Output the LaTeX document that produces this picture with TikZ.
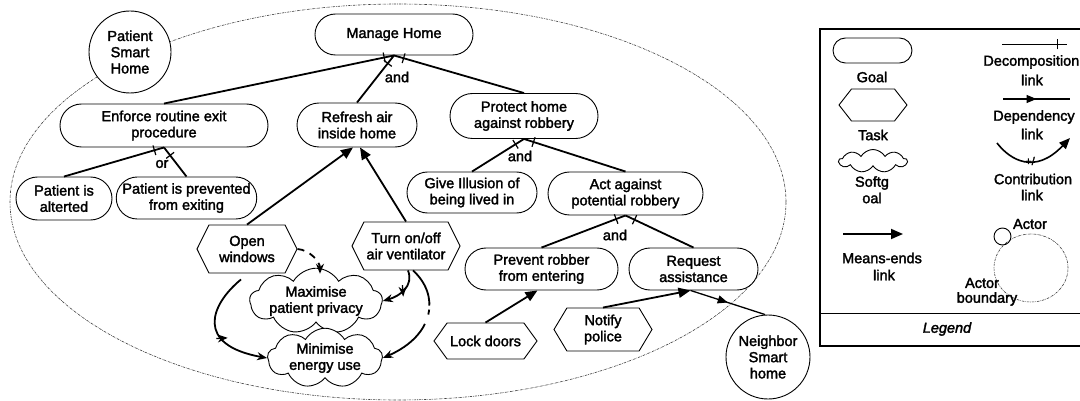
\documentclass[tikz,border=0pt]{standalone}
\usepackage{fontspec}
\setmainfont{Liberation Sans}[FakeBold=2]
\usetikzlibrary{shapes.misc,shapes.symbols,shapes.geometric,arrows.meta,decorations.markings,calc}
\begin{document}
\begin{tikzpicture}[x=1pt,y=-1pt,
  every node/.style={font=\fontsize{14.5}{16.2}\selectfont, align=center, inner sep=0pt},
  goal/.style={rounded rectangle, draw, line width=0.9pt, fill=white},
  task/.style={signal, signal to=west and east, signal pointer angle=#1, draw, line width=0.9pt, fill=white},
  task/.default=125,
  soft/.style={cloud, cloud puffs=9, cloud puff arc=120, cloud ignores aspect, draw, line width=0.9pt, fill=white},
  actor/.style={circle, draw, line width=0.9pt, fill=white},
  bnd/.style={line width=0.6pt, black!75, dash pattern=on 2.5pt off 1pt on 0.6pt off 1pt},
  lnk/.style={line width=1.8pt},
  tickmark/.style={postaction={decorate, decoration={markings, mark=at position #1 with {\draw[line width=1.2pt, solid] (0,-5pt) -- (0,5pt);}}}},
  xmark/.style={postaction={decorate, decoration={markings, mark=at position #1 with {\draw[line width=1.3pt, solid] (-3.5pt,-4.5pt) -- (3.5pt,4.5pt);}}}},
  decomp/.style={lnk, tickmark=10pt},
  meansend/.style={lnk, -{Triangle[length=12pt,width=10pt]}},
  contrib/.style={lnk, -{Stealth[length=10pt,width=8pt]}},
  dep/.style={line width=1.3pt, postaction={decorate, decoration={markings, mark=at position 0.5 with {\arrow{Triangle[length=10pt,width=8pt]}}}}},
  lbl/.style={}
]
\useasboundingbox (0,0) rectangle (1080,401);

% actor boundary
\draw[bnd] (398,202) ellipse [x radius=388pt, y radius=198pt];

% actors
\node[actor, minimum size=82pt] (psh) at (130,52) {Patient\\Smart\\Home};
\node[actor, minimum size=84pt] (nsh) at (768,357) {Neighbor\\Smart\\home};

% goals
\node[goal, minimum width=158pt, minimum height=41pt] (manage) at (394,34.5) {Manage Home};
\node[goal, minimum width=208pt, minimum height=43pt] (enforce) at (164,125.5) {Enforce routine exit\\procedure};
\node[goal, minimum width=120pt, minimum height=44pt] (refresh) at (357,125) {Refresh air\\inside home};
\node[goal, minimum width=148pt, minimum height=45pt] (protect) at (524,116) {Protect home\\against robbery};
\node[goal, minimum width=96pt, minimum height=43pt] (alert) at (64,198.5) {Patient is\\alterted};
\node[goal, minimum width=137pt, minimum height=42pt] (prevent) at (186.5,198) {Patient is prevented\\from exiting};
\node[goal, minimum width=130pt, minimum height=41pt] (illusion) at (472,192.5) {Give Illusion of\\being lived in};
\node[goal, minimum width=155pt, minimum height=43pt] (act) at (625.5,193.5) {Act against\\potential robbery};
\node[goal, minimum width=153pt, minimum height=42pt] (robber) at (541.5,269) {Prevent robber\\from entering};
\node[goal, minimum width=129pt, minimum height=42pt] (request) at (693.5,269) {Request\\assistance};

% tasks
\node[task=127, minimum width=100pt, minimum height=48pt] (openw) at (247,249) {Open\\windows};
\node[task=127, minimum width=108pt, minimum height=48pt] (turn) at (406,246) {Turn on/off\\air ventilator};
\node[task=108, minimum width=103pt, minimum height=36pt] (lock) at (485.5,341) {Lock doors};
\node[task=118, minimum width=98pt, minimum height=43pt] (notify) at (603,329.5) {Notify\\police};

% softgoals
\node[soft, minimum width=127pt, minimum height=58pt] (maxp) at (316,301) {Maximise\\patient privacy};
\node[soft, minimum width=115pt, minimum height=50pt] (mine) at (325,358) {Minimise\\energy use};

% decomposition links
\draw[decomp] (manage.south) -- (enforce.north);
\draw[decomp] (manage.south) -- (refresh.north);
\draw[decomp] (manage.south) -- (protect.north);
\node[lbl] (and1) at (397,77) {and};
\draw[decomp] (enforce.south) -- (alert.north);
\draw[decomp] (enforce.south) -- (prevent.north);
\node[lbl] (or1) at (162,164) {or};
\draw[decomp] (protect.south) -- (illusion.north);
\draw[decomp] (protect.south) -- (act.north);
\node[lbl] (and2) at (520,156) {and};
\draw[decomp] (act.south) -- (robber.north);
\draw[decomp] (act.south) -- (request.north);
\node[lbl] (and3) at (615,235) {and};

% means-ends links
\draw[meansend] (openw.north) -- ([xshift=-4pt]refresh.south);
\draw[meansend] (turn.north) -- ([xshift=3pt]refresh.south);
\draw[meansend] (lock.north) -- ([xshift=-4pt]robber.south);
\draw[meansend] (notify.north) -- ([xshift=-3pt]request.south);

% dependency
\draw[dep] ([xshift=-3pt]request.south) -- ([xshift=-3pt]nsh.north);

% contribution links
\draw[contrib, dash pattern=on 7pt off 6pt on 7pt off 6pt on 40pt] (openw.east) .. controls (310,250) and (320,262) .. ([xshift=4pt,yshift=-6pt]maxp.north);
\draw[contrib, xmark=0.58] ([xshift=-6pt,yshift=-6pt]openw.south) .. controls (210,305) and (195,345) .. (mine.west);
\draw[contrib, xmark=0.5] ([xshift=2pt]turn.south) .. controls (414,286) and (400,296) .. (maxp.east);
\draw[contrib, dash pattern=on 40pt off 4pt on 5pt off 10pt on 120pt] ([xshift=7pt]turn.south) .. controls (440,295) and (435,335) .. (mine.east);

% legend
\draw[line width=1.2pt] (1082,29) -- (820,29) -- (820,346) -- (1082,346);
\draw[line width=1.2pt] (820,313.5) -- (1082,313.5);
\node (lgd) at (947,329) {\itshape Legend};

\node[goal, minimum width=79pt, minimum height=25pt] (lgoal) at (872.5,50.5) {};
\node (lgoalt) at (872,77) {Goal};
\node[task=104, minimum width=68pt, minimum height=32pt] (ltask) at (873,105) {};
\node (ltaskt) at (873,135) {Task};
\node[soft, minimum width=68pt, minimum height=23pt] (lsoft) at (873,161) {};
\node (lsofta) at (872,183) {Softg};
\node (lsoftb) at (872,198) {oal};
\coordinate (lme1) at (843,234);
\coordinate (lme2) at (903,234);
\draw[meansend] (lme1) -- (lme2);
\node (lmet) at (882,258) {Means-ends};
\node (lmel) at (884,275) {link};

\coordinate (ld1) at (1002,44.5);
\coordinate (ld2) at (1067,44.5);
\draw[line width=1.5pt, tickmark=0.85] (ld1) -- (ld2);
\node[anchor=east] (ldt) at (1079.5,62) {Decomposition};
\node (ldl) at (1032,80) {link};

\coordinate (ldp1) at (1003,99);
\coordinate (ldp2) at (1070,99);
\draw[dep] (ldp1) -- (ldp2);
\node (ldpt) at (1034,117) {Dependency};
\node (ldpl) at (1032,134) {link};

\coordinate (lc1) at (997,143);
\coordinate (lc2) at (1070,138);
\draw[line width=1.6pt, -{Triangle[length=11pt,width=9pt]}] (lc1) .. controls (1010,160) and (1035,175) .. (lc2);
\node[font=\fontsize{11}{12}\selectfont] (lcs) at (1030,161) {+/};
\node (lct) at (1033,179) {Contribution};
\node (lcl) at (1032,195) {link};

\draw[bnd] (1031,268) ellipse [x radius=37pt, y radius=34pt];
\node[circle, draw, line width=0.9pt, minimum size=17pt] (lactor) at (1002.5,236.5) {};
\node (lactt) at (1030,224) {Actor};
\node (lbt1) at (982,283) {Actor};
\node (lbt2) at (987,299) {boundary};
\end{tikzpicture}
\end{document}
